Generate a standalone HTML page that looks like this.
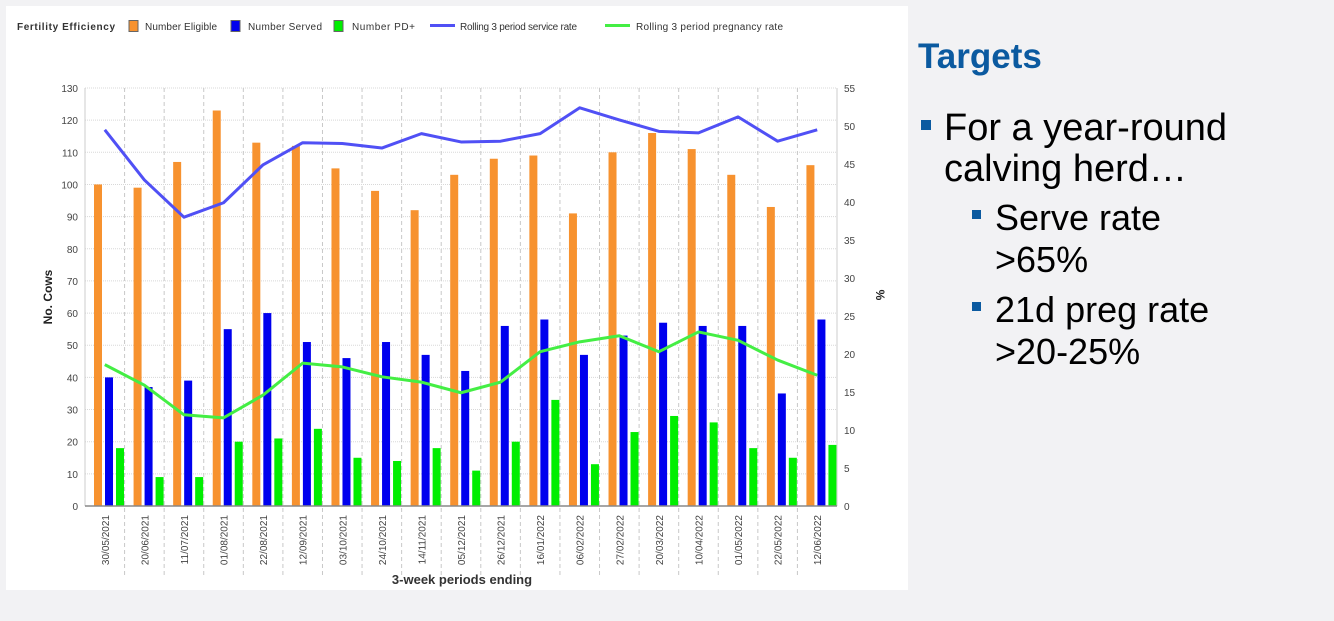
<!DOCTYPE html>
<html><head><meta charset="utf-8"><style>
body{margin:0;width:1334px;height:621px;background:#f2f2f4;overflow:hidden;font-family:"Liberation Sans",sans-serif}
svg{position:absolute;left:0;top:0}
</style></head><body>
<svg id="c" width="1334" height="621">
<rect x="6" y="6" width="902" height="584" fill="#fff"/>
<g id="g"></g>
<text x="918" y="68" font-size="35" font-weight="bold" fill="#0b5aa0">Targets</text>
<rect x="921" y="120" width="10" height="10" fill="#0b5aa0"/>
<text x="944" y="140" font-size="38" fill="#000">For a year-round</text>
<text x="944" y="181" font-size="38" fill="#000">calving herd…</text>
<rect x="972" y="210" width="9" height="9" fill="#0b5aa0"/>
<text x="995" y="230" font-size="36" fill="#000">Serve rate</text>
<text x="995" y="272" font-size="36" fill="#000">&gt;65%</text>
<rect x="972" y="302" width="9" height="9" fill="#0b5aa0"/>
<text x="995" y="322" font-size="36" fill="#000">21d preg rate</text>
<text x="995" y="364" font-size="36" fill="#000">&gt;20-25%</text>
</svg>
<script>
const categories=["30/05/2021","20/06/2021","11/07/2021","01/08/2021","22/08/2021","12/09/2021","03/10/2021","24/10/2021","14/11/2021","05/12/2021","26/12/2021","16/01/2022","06/02/2022","27/02/2022","20/03/2022","10/04/2022","01/05/2022","22/05/2022","12/06/2022"];
const eligible=[100,99,107,123,113,112,105,98,92,103,108,109,91,110,116,111,103,93,106];
const served=[40,37,39,55,60,51,46,51,47,42,56,58,47,53,57,56,56,35,58];
const pdPlus=[18,9,9,20,21,24,15,14,18,11,20,33,13,23,28,26,18,15,19];
const serviceRate=[49.5,42.9,38,39.9,44.9,47.8,47.7,47.1,49,47.9,48,49,52.4,50.8,49.3,49.1,51.2,48,49.5];
const pregRate=[18.6,15.9,12,11.6,14.6,18.8,18.3,17,16.3,14.9,16.3,20.3,21.6,22.4,20.3,22.9,21.8,19.2,17.2];
const leftTicks=[0,10,20,30,40,50,60,70,80,90,100,110,120,130];
const rightTicks=[0,5,10,15,20,25,30,35,40,45,50,55];

const X0=85,X1=837,Y0=506,Y1=88,N=categories.length,CW=(X1-X0)/N;
const yL=v=>Y0-v/130*(Y0-Y1), yR=v=>Y0-v/55*(Y0-Y1), xc=i=>X0+CW*(i+0.5);
const g=document.getElementById('g'),NS='http://www.w3.org/2000/svg';
function mk(t,a,txt){const e=document.createElementNS(NS,t);for(const k in a)e.setAttribute(k,a[k]);if(txt!=null)e.textContent=txt;g.appendChild(e);return e;}
leftTicks.forEach(v=>{const y=yL(v);
 const l=mk('line',{x1:X0,x2:X1,y1:y,y2:y,stroke:'#d8d8d8','stroke-dasharray':'1,1'});
 
 const t=mk('text',{x:X0-7,y:y+4,'font-size':10,'text-anchor':'end',fill:'#444'},v);
 });
rightTicks.forEach(v=>{const t=mk('text',{x:X1+7,y:yR(v)+4,'font-size':10,fill:'#444'},v);
 });
for(let i=1;i<N;i++){const x=X0+CW*i;const l=mk('line',{x1:x,x2:x,y1:Y1,y2:578,stroke:'#c8c8c8','stroke-dasharray':'4,3'});
 }
const ax=mk('line',{x1:X0,x2:X0,y1:Y1,y2:Y0,stroke:'#ccc'});
const ax2=mk('line',{x1:X1,x2:X1,y1:Y1,y2:Y0,stroke:'#ccc'});
const series=[[eligible,'#f7922f','bar-eligible'],[served,'#0000ee','bar-served'],[pdPlus,'#00ee00','bar-pd-plus']];
categories.forEach((c,i)=>{const bx=X0+CW*i;
 series.forEach(([arr,col,nm],k)=>{const y=yL(arr[i]);
  const r=mk('rect',{x:bx+9+k*11,y:y,width:8,height:Y0-y,fill:col});
  });
 const x=xc(i);const t=mk('text',{x:0,y:0,'font-size':10,'text-anchor':'end',fill:'#444',transform:`translate(${x+4},515) rotate(-90)`},c);
 });
const base=mk('line',{x1:X0,x2:X1,y1:Y0,y2:Y0,stroke:'#888','stroke-width':1.5});
[[serviceRate,'#5050f5','service-rate-line'],[pregRate,'#44ee44','pregnancy-rate-line']].forEach(([arr,col,nm])=>{
 const p=mk('polyline',{points:arr.map((v,i)=>xc(i)+','+yR(v)).join(' '),fill:'none',stroke:col,'stroke-width':3,'stroke-linejoin':'round'});
 });
let t=mk('text',{x:462,y:584,'font-size':13,'font-weight':'bold','text-anchor':'middle',fill:'#333'},'3-week periods ending');

t=mk('text',{x:0,y:0,'font-size':12,'font-weight':'bold','text-anchor':'middle',fill:'#222',transform:'translate(52,297) rotate(-90)'},'No. Cows');

t=mk('text',{x:0,y:0,'font-size':12,'font-weight':'bold','text-anchor':'middle',fill:'#222',transform:'translate(876,295) rotate(90)'},'%');

t=mk('text',{x:17,y:30,'font-size':10,'font-weight':'bold',fill:'#333','textLength':98},'Fertility Efficiency');

[['#f7922f','Number Eligible',129,145,72,'box'],['#0000ee','Number Served',231,248,74,'box'],['#00ee00','Number PD+',334,352,63,'box'],['#5050f5','Rolling 3 period service rate',430,460,117,'line'],['#44ee44','Rolling 3 period pregnancy rate',605,636,147,'line']].forEach(([col,lab,x,tx,tl,type])=>{
 let s;
 if(type==='box')s=mk('rect',{x:x,y:20.5,width:9,height:11,fill:col,stroke:'#666'});
 else s=mk('rect',{x:x,y:24,width:25,height:3,fill:col});
 
 const tt=mk('text',{x:tx,y:30,'font-size':10,fill:'#333',textLength:tl},lab);
 });
</script>
</body></html>
